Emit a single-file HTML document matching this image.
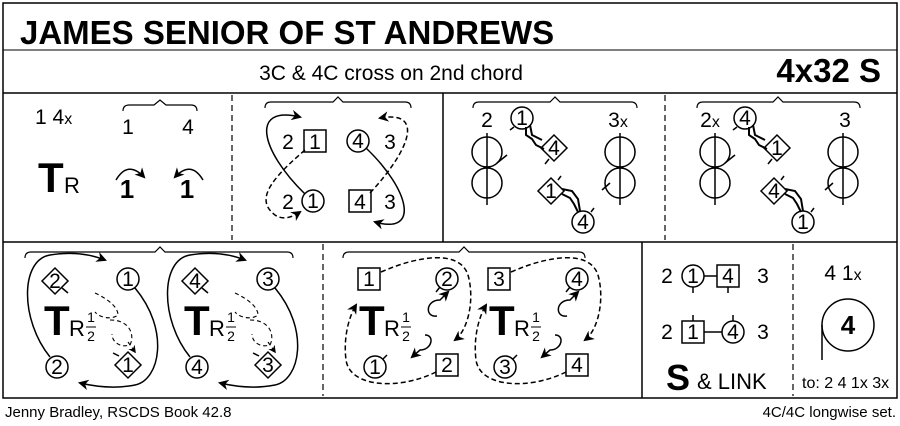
<!DOCTYPE html>
<html><head><style>body{margin:0;background:#fff}svg{display:block}text{font-family:"Liberation Sans",sans-serif;fill:#000}</style></head><body>
<svg width="900" height="426" viewBox="0 0 900 426" xmlns="http://www.w3.org/2000/svg">
<defs><marker id="a" viewBox="0 0 10 10" refX="8" refY="5" markerWidth="7" markerHeight="7" orient="auto"><path d="M0,0L10,5L0,10L3,5z" fill="#000"/></marker></defs>
<g fill="none" stroke="#000" stroke-width="1.5">
<rect x="3" y="3" width="894" height="395"/>
<line x1="3" y1="50" x2="897" y2="50" stroke-width="1"/>
<line x1="3" y1="93" x2="897" y2="93"/>
<line x1="3" y1="242" x2="897" y2="242"/>
<line x1="443" y1="93" x2="443" y2="242"/>
<line x1="642" y1="242" x2="642" y2="398"/>
<g stroke-dasharray="6,4" stroke-width="1.2"><line x1="232" y1="95" x2="232" y2="240"/><line x1="665" y1="95" x2="665" y2="240"/><line x1="323" y1="244" x2="323" y2="396"/><line x1="793" y1="244" x2="793" y2="396"/></g>
<g stroke-width="1.2">
<path d="M123,111 q0,-6 6,-6 h25 l6,-5 l6,5 h25 q6,0 6,6"/>
<path d="M265,108 q0,-6 6,-6 h62 l5,-5 l5,5 h62 q6,0 6,6"/>
<path d="M473,108 q0,-6 6,-6 h71 l5,-5 l5,5 h71 q6,0 6,6"/>
<path d="M697,108 q0,-6 6,-6 h70 l5,-5 l5,5 h71 q6,0 6,6"/>
<path d="M25,258 q0,-6 6,-6 h124 l5,-5 l5,5 h122 q6,0 6,6"/>
<path d="M343,258 q0,-6 6,-6 h110 l5,-5 l5,5 h110 q6,0 6,6"/>
</g>
<path d="M116,180 q12,-20 28,-3" marker-end="url(#a)"/>
<path d="M203,180 q-12,-20 -28,-3" marker-end="url(#a)"/>
<!-- panel2 -->
<rect x="304" y="130" width="22" height="22"/><circle cx="358" cy="141" r="11"/>
<circle cx="313" cy="201" r="11"/><rect x="349" y="190" width="22" height="22"/>
<path d="M305,194 C260,150 250,105 300,117" marker-end="url(#a)"/>
<path d="M305,150 C270,180 255,200 275,215 Q285,222 300,212" stroke-dasharray="5,3" marker-end="url(#a)"/>
<path d="M366,148 C410,190 420,235 375,222" marker-end="url(#a)"/>
<path d="M370,193 C410,150 425,110 380,118" stroke-dasharray="5,3" marker-end="url(#a)"/>
<!-- panel3 -->
<line x1="487" y1="133" x2="487" y2="205"/><circle cx="487" cy="152" r="15"/><circle cx="487" cy="183" r="15"/><line x1="497" y1="163" x2="507" y2="155"/>
<line x1="620" y1="133" x2="620" y2="205"/><circle cx="620" cy="152" r="15"/><circle cx="620" cy="183" r="15"/><line x1="610" y1="183" x2="602" y2="190"/>
<circle cx="522" cy="118" r="11"/><line x1="514" y1="127" x2="510" y2="130"/>
<path d="M541,148 l13,-13 l13,13 l-13,13z"/><path d="M538,191 l13,-13 l13,13 l-13,13z"/>
<circle cx="583" cy="222" r="11"/>
<path d="M526,127 l0,8 l6,4 l4,6 l8,4 M530,125 l2,10 l10,5" stroke-width="2"/>
<path d="M562,194 l8,4 l4,6 l4,8 M562,189 l10,2 l6,8 l2,12" stroke-width="2"/>
<line x1="549" y1="159" x2="545" y2="164"/><line x1="558" y1="180" x2="561" y2="176"/><line x1="591" y1="212" x2="594" y2="208"/>
<!-- panel4 -->
<line x1="715" y1="133" x2="715" y2="205"/><circle cx="715" cy="152" r="15"/><circle cx="715" cy="183" r="15"/><line x1="725" y1="163" x2="735" y2="155"/>
<line x1="843" y1="133" x2="843" y2="205"/><circle cx="843" cy="152" r="15"/><circle cx="843" cy="183" r="15"/><line x1="833" y1="183" x2="825" y2="190"/>
<circle cx="745" cy="118" r="11"/><line x1="737" y1="127" x2="733" y2="130"/>
<path d="M764,148 l13,-13 l13,13 l-13,13z"/><path d="M761,191 l13,-13 l13,13 l-13,13z"/>
<circle cx="803" cy="222" r="11"/>
<path d="M749,127 l0,8 l6,4 l4,6 l8,4 M753,125 l2,10 l10,5" stroke-width="2"/>
<path d="M785,194 l8,4 l4,6 l4,8 M785,189 l10,2 l6,8 l2,12" stroke-width="2"/>
<line x1="772" y1="159" x2="768" y2="164"/><line x1="781" y1="180" x2="784" y2="176"/><line x1="811" y1="212" x2="814" y2="208"/>
<!-- row2 panel1 -->
<g id="g1">
<path d="M42,281 l13,-13 l13,13 l-13,13z"/><line x1="62" y1="288" x2="68" y2="293"/>
<circle cx="128" cy="279" r="11"/><circle cx="57" cy="367" r="11"/>
<path d="M115,365 l13,-13 l13,13 l-13,13z"/><line x1="119" y1="356" x2="113" y2="353"/>
<path d="M50,357 C20,320 20,260 50,255 Q80,250 105,260" marker-end="url(#a)"/>
<path d="M135,288 C170,330 160,380 135,385 Q110,390 80,383" marker-end="url(#a)"/>
<path d="M95,293 C110,300 118,308 118,315 C112,320 100,318 95,312 M110,320 C130,320 135,335 130,345 C120,348 112,342 112,334 M128,342 L135,352" stroke-dasharray="4,3" stroke-width="1.1" marker-end="url(#a)"/>
</g>
<use href="#g1" x="140"/>
<!-- row2 panel2 -->
<g id="g2">
<rect x="358" y="268" width="22" height="22"/><circle cx="447" cy="279" r="11"/><line x1="440" y1="287" x2="436" y2="292"/>
<circle cx="375" cy="367" r="11"/><line x1="383" y1="359" x2="387" y2="355"/>
<rect x="436" y="354" width="22" height="22"/>
<path d="M381,272 C420,255 460,250 468,275 C475,300 468,330 455,340" stroke-dasharray="5,3" marker-end="url(#a)"/>
<path d="M436,372 C400,390 350,388 346,360 C343,335 350,315 356,305" stroke-dasharray="5,3" marker-end="url(#a)"/>
<path d="M437,316 C425,318 425,300 440,300 L448,292" marker-end="url(#a)"/>
<path d="M425,335 C435,335 432,350 420,350 L412,357" marker-end="url(#a)"/>
</g>
<use href="#g2" x="130"/>
<!-- S & link -->
<circle cx="693" cy="276" r="11"/><rect x="717" y="265" width="22" height="22"/><line x1="704" y1="276" x2="717" y2="276"/><line x1="693" y1="287" x2="693" y2="293"/><line x1="728" y1="287" x2="728" y2="293"/>
<rect x="682" y="321" width="22" height="22"/><circle cx="733" cy="332" r="11"/><line x1="704" y1="332" x2="722" y2="332"/><line x1="693" y1="315" x2="693" y2="321"/><line x1="733" y1="315" x2="733" y2="321"/>
<circle cx="848" cy="325" r="26"/><line x1="822" y1="325" x2="822" y2="360"/>
</g>
<g font-size="21" text-anchor="middle">
<text x="35" y="124" text-anchor="start">1 4<tspan font-size="16">x</tspan></text>
<text x="128" y="134">1</text><text x="188" y="134">4</text>
<text x="127" y="198" font-weight="bold" font-size="26">1</text><text x="187" y="198" font-weight="bold" font-size="26">1</text>
<text x="288" y="149">2</text><text x="315" y="149">1</text><text x="358" y="148">4</text><text x="390" y="149">3</text>
<text x="288" y="209">2</text><text x="313" y="208">1</text><text x="360" y="209">4</text><text x="390" y="209">3</text>
<text x="487" y="127">2</text><text x="522" y="125">1</text><text x="618" y="127">3<tspan font-size="16">x</tspan></text>
<text x="554" y="155">4</text><text x="551" y="198">1</text><text x="583" y="229">4</text>
<text x="710" y="127">2<tspan font-size="16">x</tspan></text><text x="745" y="125">4</text><text x="845" y="127">3</text>
<text x="777" y="155">1</text><text x="774" y="198">4</text><text x="803" y="229">1</text>
<text x="55" y="288">2</text><text x="128" y="286">1</text><text x="57" y="374">2</text><text x="128" y="372">1</text>
<text x="195" y="288">4</text><text x="268" y="286">3</text><text x="197" y="374">4</text><text x="268" y="372">3</text>
<text x="369" y="286">1</text><text x="447" y="286">2</text><text x="375" y="374">1</text><text x="447" y="372">2</text>
<text x="499" y="286">3</text><text x="577" y="286">4</text><text x="505" y="374">3</text><text x="577" y="372">4</text>
<text x="667" y="283">2</text><text x="693" y="283">1</text><text x="728" y="283">4</text><text x="763" y="283">3</text>
<text x="667" y="339">2</text><text x="693" y="339">1</text><text x="733" y="339">4</text><text x="763" y="339">3</text>
<text x="843" y="280">4 1<tspan font-size="16">x</tspan></text>
<text x="848" y="334" font-weight="bold" font-size="26">4</text>
</g>
<g font-size="42" font-weight="bold">
<text x="38" y="192">T</text><text x="44" y="335">T</text><text x="184" y="335">T</text><text x="359" y="335">T</text><text x="489" y="335">T</text>
</g>
<g font-size="22">
<text x="64" y="193">R</text>
<text x="69" y="336">R</text><text x="209" y="336">R</text><text x="384" y="336">R</text><text x="514" y="336">R</text>
</g>
<g font-size="14" text-anchor="middle">
<text x="91" y="322">1</text><text x="91" y="341">2</text><text x="231" y="322">1</text><text x="231" y="341">2</text>
<text x="406" y="322">1</text><text x="406" y="341">2</text><text x="536" y="322">1</text><text x="536" y="341">2</text>
</g>
<g stroke="#000" stroke-width="1"><line x1="86" y1="327" x2="96" y2="327"/><line x1="226" y1="327" x2="236" y2="327"/><line x1="401" y1="327" x2="411" y2="327"/><line x1="531" y1="327" x2="541" y2="327"/></g>
<text x="20" y="44" font-size="33" font-weight="bold">JAMES SENIOR OF ST ANDREWS</text>
<text x="391" y="80" font-size="21" text-anchor="middle">3C &amp; 4C cross on 2nd chord</text>
<text x="881" y="82" font-size="33" font-weight="bold" text-anchor="end">4x32 S</text>
<text x="666" y="390" font-size="36" font-weight="bold">S</text><text x="697" y="389" font-size="22">&amp; LINK</text>
<text x="802" y="388" font-size="16">to:  2 4 1x 3x</text>
<text x="5" y="417" font-size="15">Jenny Bradley, RSCDS Book 42.8</text>
<text x="896" y="417" font-size="15" text-anchor="end">4C/4C longwise set.</text>
</svg>
</body></html>
